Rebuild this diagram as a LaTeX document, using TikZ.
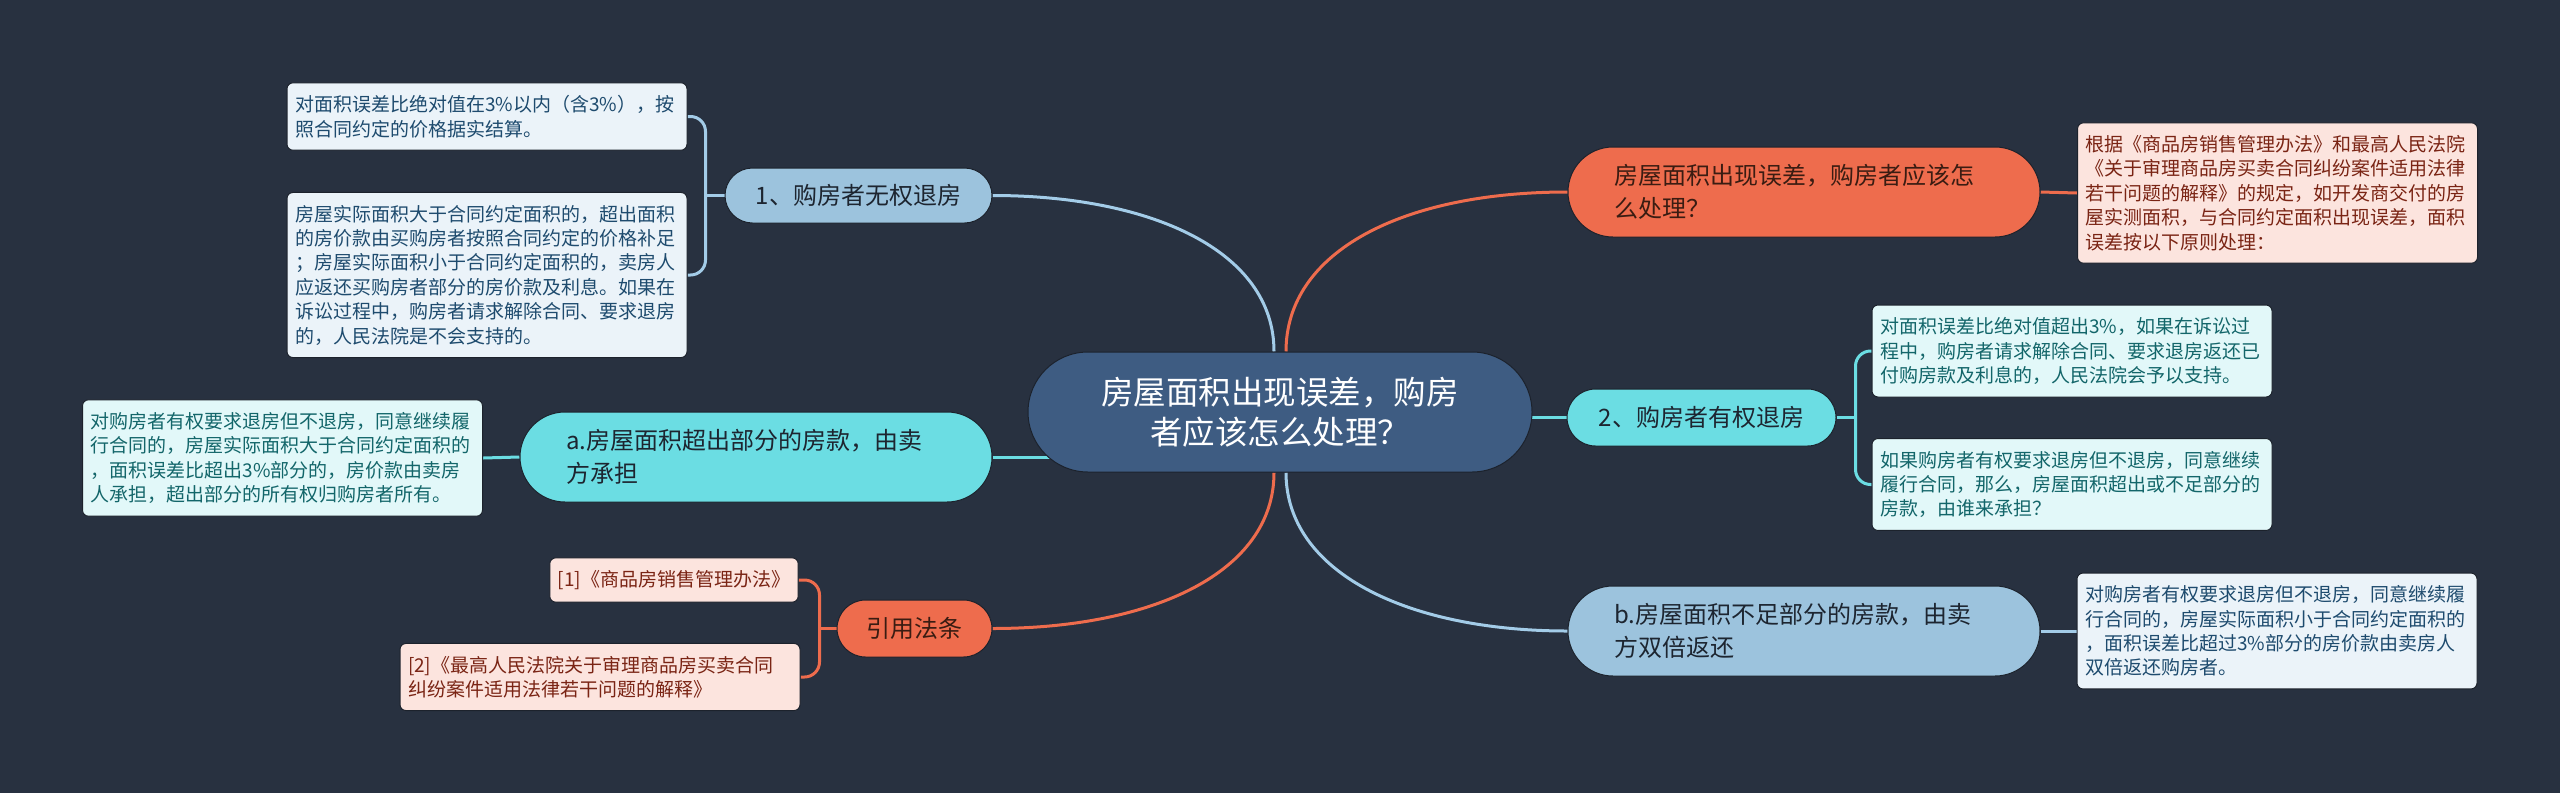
\documentclass[tikz,border=0pt]{standalone}
\usepackage{fontspec}
\setmainfont{Noto Sans CJK SC}
\usetikzlibrary{shapes.misc}
\definecolor{bg}{HTML}{283140}
\definecolor{hub}{HTML}{3E5C82}
\definecolor{coral}{HTML}{EE6C4D}
\definecolor{coraldeep}{HTML}{3A1C12}
\definecolor{coralpale}{HTML}{FCE4DE}
\definecolor{coralink}{HTML}{7A2414}
\definecolor{aqua}{HTML}{6BDDE3}
\definecolor{aquapale}{HTML}{E2F8F9}
\definecolor{aquaink}{HTML}{13666A}
\definecolor{sky}{HTML}{9CC3DD}
\definecolor{skyline}{HTML}{A3CCE8}
\definecolor{skypale}{HTML}{EBF3F9}
\definecolor{skyink}{HTML}{1E4B6E}
\definecolor{deep}{HTML}{1D2530}
\definecolor{rim}{HTML}{1C222C}
\newcommand\hubfont{\fontsize{32.5}{40}\selectfont}
\newcommand\armfont{\fontsize{24}{33}\selectfont}
\newcommand\leaffont{\fontsize{19}{24.4}\selectfont}
\pgfdeclarelayer{links}
\pgfsetlayers{links,main}

\begin{document}
\begin{tikzpicture}[x=1pt,y=-1pt,
  pill/.style={rounded rectangle,inner sep=0pt,draw=rim,line width=1pt},
  arm/.style={pill,font=\armfont,text=deep},
  armtwo/.style={arm,text width=380pt,align=left,minimum width=472pt,minimum height=90pt},
  leafbase/.style={rectangle,rounded corners=6pt,draw=rim,line width=1pt,inner xsep=8pt,inner ysep=12.5pt,font=\leaffont},
  leaf/.style={leafbase,text width=384pt,align=left},
  skyleaf/.style={leaf,fill=skypale,text=skyink},
  aqualeaf/.style={leaf,fill=aquapale,text=aquaink},
  coralleaf/.style={leaf,fill=coralpale,text=coralink},
  link/.style={line width=3pt},
  fork/.style={link,rounded corners=15pt}]
\useasboundingbox (0,0) rectangle (2560,793);
% centre
\node[pill,fill=hub,text=white,font=\hubfont,align=center,minimum width=504pt,minimum height=120pt] (hub) at (1280,412) {房屋面积出现误差，购房\\者应该怎么处理？};
% left branches
\node[arm,fill=sky,minimum width=267pt,minimum height=55pt] (noright) at (858.5,195.5) {1、购房者无权退房};
\node[armtwo,fill=aqua] (extra) at (756,457) {a.房屋面积超出部分的房款，由卖\\方承担};
\node[arm,fill=coral,text=coraldeep,minimum width=155pt,minimum height=57pt] (laws) at (914.5,628.5) {引用法条};
% right branches
\node[armtwo,fill=coral,text=coraldeep] (question) at (1804,192) {房屋面积出现误差，购房者应该怎\\么处理？};
\node[arm,fill=aqua,minimum width=269pt,minimum height=57pt] (right) at (1701.5,417.5) {2、购房者有权退房};
\node[armtwo,fill=sky] (short) at (1804,631) {b.房屋面积不足部分的房款，由卖\\方双倍返还};
% leaves, left
\node[skyleaf] (within) at (487,116.5) {对面积误差比绝对值在3\%以内（含3\%），按\\照合同约定的价格据实结算。};
\node[skyleaf] (bigger) at (487,275) {房屋实际面积大于合同约定面积的，超出面积\\的房价款由买购房者按照合同约定的价格补足\\；房屋实际面积小于合同约定面积的，卖房人\\应返还买购房者部分的房价款及利息。如果在\\诉讼过程中，购房者请求解除合同、要求退房\\的，人民法院是不会支持的。};
\node[aqualeaf] (keepbig) at (282.5,458) {对购房者有权要求退房但不退房，同意继续履\\行合同的，房屋实际面积大于合同约定面积的\\，面积误差比超出3\%部分的，房价款由卖房\\人承担，超出部分的所有权归购房者所有。};
\node[leafbase,fill=coralpale,text=coralink] (lawone) at (674,580) {[1]《商品房销售管理办法》};
\node[coralleaf] (lawtwo) at (600,677) {[2]《最高人民法院关于审理商品房买卖合同\\纠纷案件适用法律若干问题的解释》};
% leaves, right
\node[coralleaf] (basis) at (2277.5,193) {根据《商品房销售管理办法》和最高人民法院\\《关于审理商品房买卖合同纠纷案件适用法律\\若干问题的解释》的规定，如开发商交付的房\\屋实测面积，与合同约定面积出现误差，面积\\误差按以下原则处理：};
\node[aqualeaf] (over) at (2072,351) {对面积误差比绝对值超出3\%，如果在诉讼过\\程中，购房者请求解除合同、要求退房返还已\\付购房款及利息的，人民法院会予以支持。};
\node[aqualeaf] (keep) at (2072,484.5) {如果购房者有权要求退房但不退房，同意继续\\履行合同，那么，房屋面积超出或不足部分的\\房款，由谁来承担？};
\node[skyleaf] (keepsmall) at (2277,631) {对购房者有权要求退房但不退房，同意继续履\\行合同的，房屋实际面积小于合同约定面积的\\，面积误差比超过3\%部分的房价款由卖房人\\双倍返还购房者。};
% connectors
\begin{pgfonlayer}{links}
\fill[bg] (0,0) rectangle (2560,793);
\draw[link,skyline] ([xshift=-6pt]hub.north) .. controls +(0,-100) and +(160,0) .. (noright.east);
\draw[link,coral] ([xshift=6pt]hub.north) .. controls +(0,-100) and +(-165,0) .. (question.west);
\draw[link,coral] ([xshift=-6pt]hub.south) .. controls +(0,100) and +(160,0) .. (laws.east);
\draw[link,skyline] ([xshift=6pt]hub.south) .. controls +(0,100) and +(-160,0) .. (short.west);
\draw[link,aqua] (extra.east) -- (extra.east -| hub.center);
\draw[link,aqua] (right.west) -- (right.west -| hub.center);
\draw[link,aqua] (extra.west) -- (keepbig.east);
\draw[link,coral] (question.east) -- (basis.west);
\draw[link,skyline] (short.east) -- (keepsmall.west);
% forks
\path (noright.west) ++(-19,0) coordinate (nrfork);
\path (laws.west) ++(-17,0) coordinate (lwfork);
\path (right.east) ++(19,0) coordinate (rtfork);
\draw[link,skyline] (noright.west) -- (nrfork);
\draw[fork,skyline] (within.east) -| (nrfork) |- (bigger.east);
\draw[link,coral] (laws.west) -- (lwfork);
\draw[fork,coral] (lawone.east) -| (lwfork) |- (lawtwo.east);
\draw[link,aqua] (right.east) -- (rtfork);
\draw[fork,aqua] (over.west) -| (rtfork) |- (keep.west);
\end{pgfonlayer}
\end{tikzpicture}
\end{document}
